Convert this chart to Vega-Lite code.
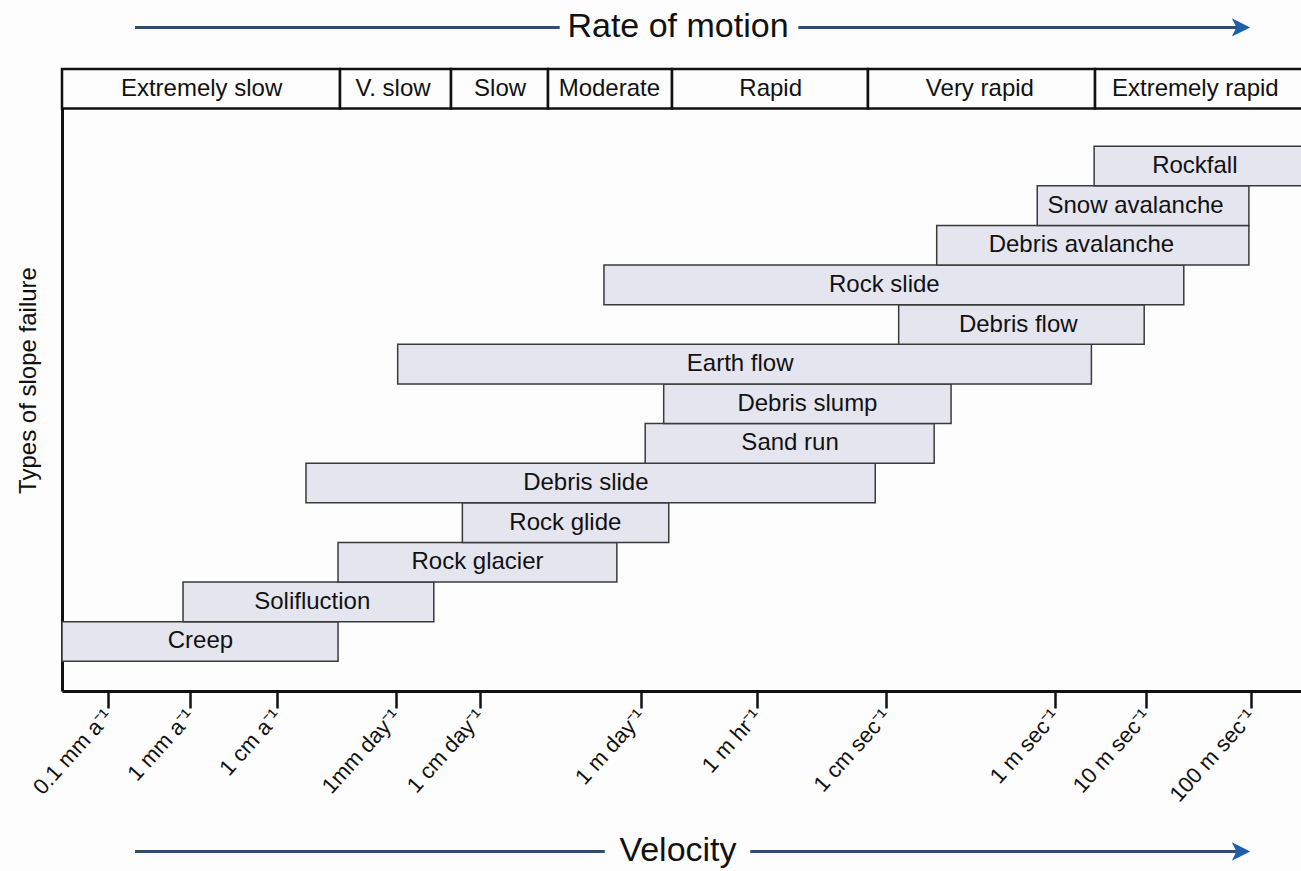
{
  "$schema": "https://vega.github.io/schema/vega-lite/v6.json",
  "width": 1239,
  "height": 622,
  "autosize": {"type": "none"},
  "padding": {"left": 62, "top": 69, "right": 0, "bottom": 180},
  "background": "#fdfdfd",
  "config": {"view": {"stroke": null}, "font": "Liberation Sans"},
  "datasets": {
    "bars": [
      {"type": "Creep", "lo": 0, "hi": 1, "start": -12.06, "end": -8.70},
      {"type": "Solifluction", "lo": 1, "hi": 2, "start": -10.585, "end": -7.49},
      {"type": "Rock glacier", "lo": 2, "hi": 3, "start": -8.70, "end": -5.24},
      {"type": "Rock glide", "lo": 3, "hi": 4, "start": -7.15, "end": -4.61},
      {"type": "Debris slide", "lo": 4, "hi": 5, "start": -9.12, "end": -2.13},
      {"type": "Sand run", "lo": 5, "hi": 6, "start": -4.89, "end": -1.43},
      {"type": "Debris slump", "lo": 6, "hi": 7, "start": -4.67, "end": -1.23},
      {"type": "Earth flow", "lo": 7, "hi": 8, "start": -7.92, "end": 0.40},
      {"type": "Debris flow", "lo": 8, "hi": 9, "start": -1.85, "end": 0.98},
      {"type": "Rock slide", "lo": 9, "hi": 10, "start": -5.40, "end": 1.36},
      {"type": "Debris avalanche", "lo": 10, "hi": 11, "start": -1.40, "end": 1.98},
      {"type": "Snow avalanche", "lo": 11, "hi": 12, "start": -0.21, "end": 1.98},
      {"type": "Rockfall", "lo": 12, "hi": 13, "start": 0.43, "end": 2.5}
    ],
    "rates": [
      {"rate": "Extremely slow", "start": -12.06, "end": -8.674},
      {"rate": "V. slow", "start": -8.674, "end": -7.285},
      {"rate": "Slow", "start": -7.285, "end": -6.095},
      {"rate": "Moderate", "start": -6.095, "end": -4.571},
      {"rate": "Rapid", "start": -4.571, "end": -2.218},
      {"rate": "Very rapid", "start": -2.218, "end": 0.44},
      {"rate": "Extremely rapid", "start": 0.44, "end": 2.5}
    ],
    "arrows": [
      {"seg": "top-left", "a": -11.17, "b": -5.95, "y": 16},
      {"seg": "top-right", "a": -3.06, "b": 1.88, "y": 16},
      {"seg": "bottom-left", "a": -11.17, "b": -5.39, "y": -4.8},
      {"seg": "bottom-right", "a": -3.64, "b": 1.88, "y": -4.8}
    ],
    "heads": [
      {"x": 1.905, "y": 16},
      {"x": 1.905, "y": -4.8}
    ],
    "titles": [
      {"label": "Rate of motion", "x": -4.5, "y": 16},
      {"label": "Velocity", "x": -4.5, "y": -4.8}
    ]
  },
  "layer": [
    {
      "data": {"name": "rates"},
      "mark": {"type": "rect", "fill": "#fdfdfd", "stroke": "#111111", "strokeWidth": 2.5},
      "encoding": {
        "x": {"field": "start", "type": "quantitative",
          "scale": {"type": "linear", "domain": [-12.06, -11.5, -10.5, -9.5, -7.94, -6.94, -4.94, -3.56, -2, 0, 1, 2, 2.476], "range": [0, 46, 128, 215, 334, 418, 579, 695, 824, 993, 1084, 1189, 1239], "nice": false, "zero": false},
          "axis": {
            "values": [-11.5, -10.5, -9.5, -7.94, -6.94, -4.94, -3.56, -2, 0, 1, 2],
            "labelExpr": "['0.1 mm a⁻¹','1 mm a⁻¹','1 cm a⁻¹','1mm day⁻¹','1 cm day⁻¹','1 m day⁻¹','1 m hr⁻¹','1 cm sec⁻¹','1 m sec⁻¹','10 m sec⁻¹','100 m sec⁻¹'][indexof([-11.5,-10.5,-9.5,-7.94,-6.94,-4.94,-3.56,-2,0,1,2], datum.value)]",
            "title": null,
            "grid": false,
            "domainColor": "#111111",
            "domainWidth": 3,
            "tickColor": "#111111",
            "tickWidth": 2.5,
            "tickSize": 17,
            "labelAngle": -48,
            "labelAlign": "right",
            "labelBaseline": "middle",
            "labelFontSize": 22,
            "labelFont": "Liberation Sans",
            "labelColor": "#111111",
            "labelPadding": 4,
            "labelFlush": false,
            "labelOverlap": false
          }
        },
        "x2": {"field": "end"},
        "y": {"datum": 13.95, "type": "quantitative",
          "scale": {"domain": [-0.75, 14.95], "nice": false, "zero": false},
          "axis": {
            "orient": "left",
            "title": "Types of slope failure",
            "labels": false,
            "ticks": false,
            "grid": false,
            "domainColor": "#111111",
            "domainWidth": 3,
            "titleFontSize": 24,
            "titleFont": "Liberation Sans",
            "titleFontWeight": "normal",
            "titleColor": "#111111",
            "titlePadding": 22
          }
        },
        "y2": {"datum": 14.95}
      }
    },
    {
      "data": {"name": "rates"},
      "transform": [{"fold": ["start", "end"], "as": ["edge", "v"]}],
      "mark": {"type": "text", "fontSize": 24, "color": "#111111", "baseline": "middle", "align": "center", "font": "Liberation Sans"},
      "encoding": {
        "x": {"aggregate": "mean", "field": "v", "type": "quantitative"},
        "y": {"datum": 14.45, "type": "quantitative"},
        "text": {"field": "rate", "type": "nominal"}
      }
    },
    {
      "data": {"name": "bars"},
      "mark": {"type": "rect", "fill": "#e5e5f0", "stroke": "#3a3a3a", "strokeWidth": 1.5},
      "encoding": {
        "x": {"field": "start", "type": "quantitative"},
        "x2": {"field": "end"},
        "y": {"field": "lo", "type": "quantitative"},
        "y2": {"field": "hi"}
      }
    },
    {
      "data": {"name": "bars"},
      "transform": [{"fold": ["start", "end"], "as": ["edge", "v"]}],
      "mark": {"type": "text", "fontSize": 24, "color": "#111111", "baseline": "middle", "align": "center", "yOffset": -19.8, "font": "Liberation Sans"},
      "encoding": {
        "x": {"aggregate": "mean", "field": "v", "type": "quantitative"},
        "y": {"field": "lo", "type": "quantitative"},
        "text": {"field": "type", "type": "nominal"}
      }
    },
    {
      "data": {"name": "arrows"},
      "mark": {"type": "rule", "color": "#2f4e6b", "strokeWidth": 3},
      "encoding": {
        "x": {"field": "a", "type": "quantitative"},
        "x2": {"field": "b"},
        "y": {"field": "y", "type": "quantitative"}
      }
    },
    {
      "data": {"name": "heads"},
      "mark": {"type": "point", "shape": "M-1,-1L1,0L-1,1L-0.5,0Z", "filled": true, "color": "#1f5ea8", "size": 340, "opacity": 1},
      "encoding": {
        "x": {"field": "x", "type": "quantitative"},
        "y": {"field": "y", "type": "quantitative"}
      }
    },
    {
      "data": {"name": "titles"},
      "mark": {"type": "text", "fontSize": 34, "color": "#111111", "baseline": "middle", "align": "center", "font": "Liberation Sans"},
      "encoding": {
        "x": {"field": "x", "type": "quantitative"},
        "y": {"field": "y", "type": "quantitative"},
        "text": {"field": "label", "type": "nominal"}
      }
    }
  ]
}
